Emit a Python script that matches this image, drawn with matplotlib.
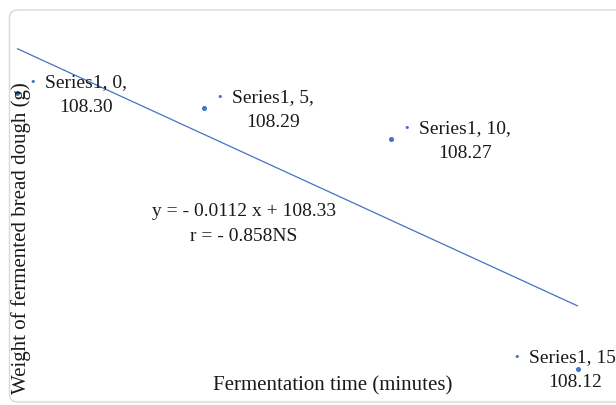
import numpy as np
import matplotlib
matplotlib.use("Agg")
import matplotlib.pyplot as plt
from matplotlib.patches import FancyBboxPatch

plt.rcParams['font.family'] = ['Liberation Serif', 'DejaVu Serif']

# Fermentation data
time_min = [0, 5, 10, 15]
weight_g = [108.30, 108.29, 108.27, 108.12]
series_name = "Series1"
x_title = "Fermentation time (minutes)"
y_title = "Weight of fermented bread dough (g)"
sig_flag = "NS"

BLUE = "#4472C4"
TXT = "#1a1a1a"
W, H = 616, 405

fig = plt.figure(figsize=(W / 100, H / 100), dpi=100)
fig.patch.set_facecolor("white")

# outer chart frame with rounded corners
frame = FancyBboxPatch((9.5, 3), 640, 392, boxstyle="round,pad=0,rounding_size=8",
                       transform=None, facecolor="none", edgecolor="#d9d9d9",
                       linewidth=1.0)
fig.patches.append(frame)

ax = fig.add_axes([0, 0, 1, 1])
ax.set_axis_off()
# scale: ~37.4 px per minute, ~1533 px per gram
px_x, px_y = 37.4, 1533.0
x0_px, y0_px = 17.0, 93.0
ax.set_xlim(-x0_px / px_x, (W - x0_px) / px_x)
ax.set_ylim(weight_g[0] - (H - y0_px) / px_y, weight_g[0] + y0_px / px_y)

x = np.array(time_min, dtype=float)
y = np.array(weight_g, dtype=float)
slope, intercept = np.polyfit(x, y, 1)
r = np.corrcoef(x, y)[0, 1]

# linear trend line
ax.plot([x.min(), x.max()], [slope * x.min() + intercept, slope * x.max() + intercept],
        color=BLUE, lw=0.9, solid_capstyle="butt")

# data points
ax.plot(x, y, ls="none", marker="o", ms=2.6, color=BLUE, mec=BLUE)

# data labels with legend key: (key dx, key dy, text dx, text dy) in pixels
label_offsets = [(16, 11, 28, -2), (16, 11, 28, -2), (16, 11, 28, -2), (-61, 12, -49, -1)]
for xi, yi, (kdx, kdy, tdx, tdy) in zip(time_min, weight_g, label_offsets):
    ax.annotate("\u2022", xy=(xi, yi), xytext=(kdx, kdy), textcoords="offset pixels",
                ha="center", va="center", color=BLUE, fontsize=8, family="DejaVu Sans")
    ax.annotate(f"{series_name}, {xi},\n{yi:.2f}", xy=(xi, yi), xytext=(tdx, tdy),
                textcoords="offset pixels", ha="left", va="center",
                multialignment="center", fontsize=14, color=TXT,
                linespacing=1.62, annotation_clip=False)

# trend equation
sign = "-" if slope < 0 else "+"
rsign = "-" if r < 0 else ""
eq = f"y = {sign} {abs(slope):.4f} x + {intercept:.2f}\nr = {rsign} {abs(r):.3f}{sig_flag}"
fig.text(244 / W, 1 - 224 / H, eq, ha="center", va="center", multialignment="center",
         fontsize=14, color=TXT, linespacing=1.62)

# axis titles
fig.text(333 / W, 1 - 386 / H, x_title, ha="center", va="center", fontsize=15,
         color=TXT)
fig.text(21 / W, 1 - 238 / H, y_title, ha="center", va="center", rotation=90,
         fontsize=15, color=TXT)

fig.savefig("out.png", dpi=100, facecolor="white")
